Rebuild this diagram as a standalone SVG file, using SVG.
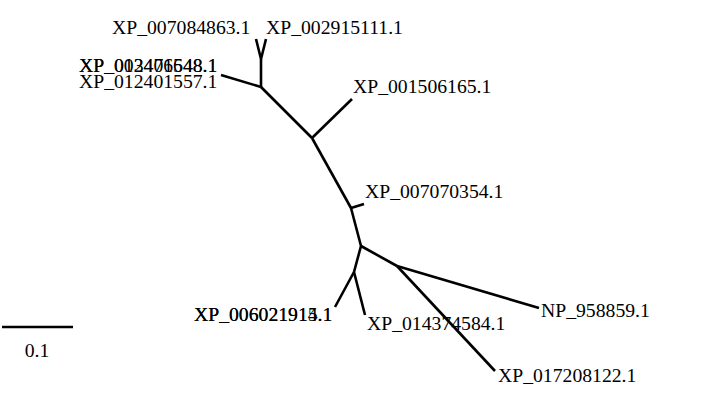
<svg xmlns="http://www.w3.org/2000/svg" width="709" height="405" viewBox="0 0 709 405">
<style>
.b{stroke:#000;stroke-width:2.6;fill:none;stroke-linecap:butt;stroke-linejoin:round}
text{font-family:"Liberation Serif","Times New Roman",serif;font-size:19.7px;fill:#000}
</style>
<rect width="709" height="405" fill="#fff"/>
<g id="connectors">
<path class="b" d="M256,39 L261,59 L266,39"/>
<path class="b" d="M261,59 L261,87"/>
<path class="b" d="M221,75 L261,87"/>
<path class="b" d="M261,87 L312,138"/>
<path class="b" d="M312,138 L352,99"/>
<path class="b" d="M312,138 L351,208"/>
<path class="b" d="M351,208 L364,204"/>
<path class="b" d="M351,208 L361,246"/>
<path class="b" d="M361,246 L354,272"/>
<path class="b" d="M354,272 L335,307"/>
<path class="b" d="M354,272 L365,315"/>
<path class="b" d="M361,246 L397,266"/>
<path class="b" d="M397,266 L539,308"/>
<path class="b" d="M397,266 L495,371"/>
</g>
<g id="tip_XP_007084863"><text x="112" y="34">XP_007084863.1</text></g>
<g id="tip_XP_002915111"><text x="266" y="34">XP_002915111.1</text></g>
<g id="tip_XP_003476548"><text x="79" y="72">XP_003476548.1</text></g>
<g id="tip_XP_012401648"><text x="79" y="72">XP_012401648.1</text></g>
<g id="tip_XP_012401557"><text x="79" y="88">XP_012401557.1</text></g>
<g id="tip_XP_001506165"><text x="353" y="93">XP_001506165.1</text></g>
<g id="tip_XP_007070354"><text x="365" y="198">XP_007070354.1</text></g>
<g id="tip_XP_006021914"><text x="194" y="321">XP_006021914.1</text></g>
<g id="tip_XP_006021915"><text x="194" y="321">XP_006021915.1</text></g>
<g id="tip_XP_014374584"><text x="367" y="330">XP_014374584.1</text></g>
<g id="tip_NP_958859"><text x="541" y="317">NP_958859.1</text></g>
<g id="tip_XP_017208122"><text x="498" y="382">XP_017208122.1</text></g>
<g id="scalebar">
<path class="b" d="M2,327 L73,327"/>
<text x="37" y="357" text-anchor="middle">0.1</text>
</g>
</svg>
